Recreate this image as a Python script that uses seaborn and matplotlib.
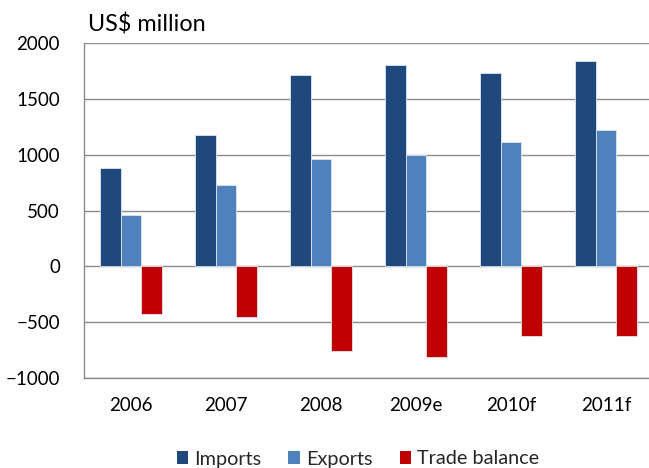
import matplotlib
matplotlib.use("Agg")
import matplotlib.pyplot as plt
import seaborn as sns
import pandas as pd
from matplotlib.patches import Patch

# Trade figures, US$ million
years = ["2006", "2007", "2008", "2009e", "2010f", "2011f"]
imports = [885, 1175, 1715, 1800, 1735, 1835]
exports = [460, 725, 965, 1000, 1115, 1220]
trade_balance = [-430, -455, -755, -810, -625, -620]
series_names = ["Imports", "Exports", "Trade balance"]
colors = ["#1F497D", "#4F81BD", "#C00000"]

df = pd.DataFrame({
    "year": years * 3,
    "value": imports + exports + trade_balance,
    "series": [series_names[0]] * 6 + [series_names[1]] * 6 + [series_names[2]] * 6,
})

sns.set_theme(style="white")
plt.rcParams["font.family"] = ["Lato", "DejaVu Sans"]

fig = plt.figure(figsize=(6.49, 4.68), dpi=100)
ax = fig.add_axes([83.5 / 649, 90 / 468, 570 / 649, 335 / 468])

sns.barplot(data=df, x="year", y="value", hue="series", order=years,
            hue_order=series_names, palette=colors, width=0.663,
            edgecolor="#dde6f0", linewidth=0.6, saturation=1,
            legend=False, ax=ax, zorder=3)

ax.set_ylim(-1000, 2000)
ax.set_yticks(range(-1000, 2001, 500))
ax.set_xlim(-0.5, 5.5)
ax.yaxis.grid(True, color="#8c8c8c", linewidth=1.0, zorder=0)
ax.set_axisbelow(True)
ax.set_xlabel("")
ax.set_ylabel("")
for side in ["top", "right"]:
    ax.spines[side].set_visible(False)
for side in ["left", "bottom"]:
    ax.spines[side].set_color("#8c8c8c")
    ax.spines[side].set_linewidth(1.0)
ax.tick_params(axis="y", length=0, pad=17, labelsize=13.5, labelcolor="#000000")
ax.tick_params(axis="x", length=0, pad=14, labelsize=13.5, labelcolor="#000000")

fig.text(88 / 649, 1 - 32 / 468, "US$ million", fontsize=16.8, color="#000000",
         ha="left", va="baseline")

handles = [Patch(facecolor=c, edgecolor="none") for c in colors]
fig.legend(handles, series_names, loc="center", bbox_to_anchor=(358 / 649, 9 / 468),
           ncol=3, frameon=False, fontsize=14.3, handlelength=0.6, handleheight=0.6,
           handletextpad=0.3, columnspacing=1.35, borderpad=0)

fig.savefig("out.png", dpi=100)
